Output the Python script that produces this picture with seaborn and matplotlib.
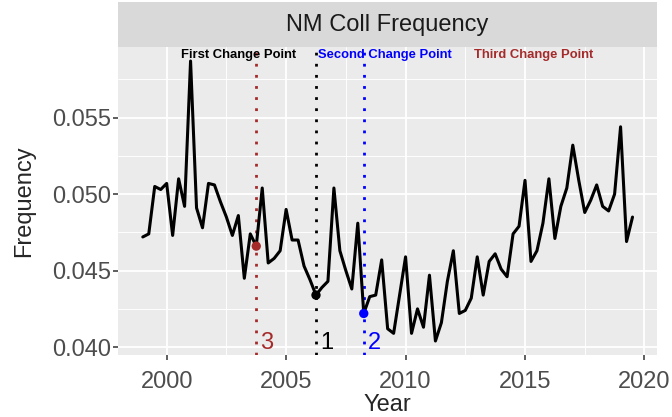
import pandas as pd
import seaborn as sns
import matplotlib.pyplot as plt
from matplotlib.ticker import MultipleLocator, FormatStrFormatter
from matplotlib.patches import Rectangle

# quarterly NM collocation frequency, 1999Q1 .. 2019Q3
quarters = pd.period_range('1999Q1', '2019Q3', freq='Q')
frequency = [
    0.0472, 0.0474, 0.0505, 0.0503,
    0.0507, 0.0473, 0.0510, 0.0492,
    0.0587, 0.0491, 0.0478, 0.0507,
    0.0506, 0.0495, 0.0485, 0.0473,
    0.0486, 0.0445, 0.0474, 0.0466,
    0.0504, 0.0455, 0.0458, 0.0463,
    0.0490, 0.0470, 0.0470, 0.0453,
    0.0444, 0.0434, 0.0439, 0.0443,
    0.0504, 0.0463, 0.0450, 0.0438,
    0.0481, 0.0422, 0.0433, 0.0434,
    0.0457, 0.0412, 0.0409, 0.0434,
    0.0459, 0.0409, 0.0425, 0.0413,
    0.0447, 0.0404, 0.0416, 0.0443,
    0.0463, 0.0422, 0.0424, 0.0432,
    0.0459, 0.0434, 0.0456, 0.0461,
    0.0451, 0.0446, 0.0474, 0.0479,
    0.0509, 0.0456, 0.0463, 0.0481,
    0.0510, 0.0471, 0.0492, 0.0504,
    0.0532, 0.0509, 0.0488, 0.0496,
    0.0506, 0.0492, 0.0489, 0.0500,
    0.0544, 0.0469, 0.0485,
]

cp_years = [2006.25, 2008.25, 2003.75]
cp_numbers = ['1', '2', '3']
cp_colors = ['black', 'blue', 'brown']
cp_titles = ['First Change Point', 'Second Change Point', 'Third Change Point']
cp_title_x = [2003.0, 2009.15, 2015.35]

df = pd.DataFrame({'Year': quarters.year + (quarters.quarter - 1) / 4,
                   'Frequency': frequency})
cp = df.set_index('Year').loc[cp_years].reset_index()
cp['color'] = cp_colors

sns.set_theme(style='darkgrid', rc={
    'axes.facecolor': '#EBEBEB',
    'grid.color': 'white',
    'axes.edgecolor': 'none',
})
plt.rcParams['font.family'] = ['Liberation Sans', 'DejaVu Sans']

fig = plt.figure(figsize=(6.72, 4.17), dpi=100)
W, H = 672, 417
ax = fig.add_axes([118.3 / W, 1 - 355 / H, (657 - 118.3) / W, (355 - 47) / H])

# strip title
fig.patches.append(Rectangle((118.3 / W, 1 - 46.7 / H), (657 - 118.3) / W, 44.7 / H,
                             transform=fig.transFigure, facecolor='#D9D9D9',
                             edgecolor='none'))
fig.text((118.3 + 657) / 2 / W, 1 - 24.5 / H, 'NM Coll Frequency', ha='center',
         va='center', fontsize=17, color='#1A1A1A')

sns.lineplot(data=df, x='Year', y='Frequency', ax=ax, color='black', linewidth=2.2)

for i, row in cp.iterrows():
    ax.axvline(row['Year'], color=row['color'], linestyle=(0, (1, 3)), linewidth=2, zorder=1)
    ax.text(row['Year'] + 0.17, 0.04025, cp_numbers[i], color=row['color'],
            fontsize=17, ha='left', va='center')
    ax.text(cp_title_x[i], 0.0591, cp_titles[i], color=row['color'], fontsize=9.4,
            fontweight='bold', ha='center', va='center')
sns.scatterplot(data=cp, x='Year', y='Frequency', hue='color', palette=dict(zip(cp_colors, cp_colors)),
                s=45, edgecolor='none', legend=False, ax=ax, zorder=3)

lo, hi = df['Frequency'].min(), df['Frequency'].max()
ax.set_ylim(lo - 0.05 * (hi - lo), hi + 0.05 * (hi - lo))
x0, x1 = df['Year'].min(), df['Year'].max()
ax.set_xlim(x0 - 0.05 * (x1 - x0), x1 + 0.05 * (x1 - x0))

ax.xaxis.set_major_locator(MultipleLocator(5))
ax.xaxis.set_minor_locator(MultipleLocator(2.5))
ax.yaxis.set_major_locator(MultipleLocator(0.005))
ax.yaxis.set_minor_locator(MultipleLocator(0.0025))
ax.yaxis.set_major_formatter(FormatStrFormatter('%.3f'))
ax.grid(which='major', color='white', linewidth=1.3)
ax.grid(which='minor', color='white', linewidth=0.65)
ax.tick_params(which='major', length=3.5, width=1.1, color='#333333',
               labelsize=17, labelcolor='#4D4D4D', bottom=True, left=True)
ax.tick_params(axis='x', pad=8)
ax.tick_params(axis='y', pad=2)
ax.tick_params(which='minor', length=0)

ax.set_xlabel('Year', fontsize=17, labelpad=1)
ax.set_ylabel('Frequency', fontsize=17, labelpad=12)

fig.savefig('out.png', dpi=100)
